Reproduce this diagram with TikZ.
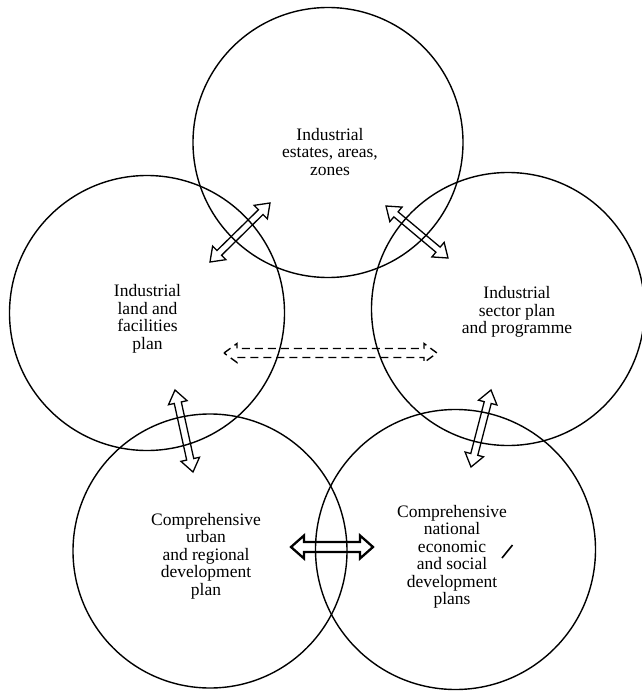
\documentclass[tikz,border=0pt]{standalone}
\usepackage{fontspec}
\setmainfont{Liberation Serif}
\usetikzlibrary{calc}
\tikzset{
  circ/.style={draw, circle, line width=1.4pt, inner sep=0pt},
  lbl/.style={align=center, inner sep=0pt, font=\fontsize{17.5}{17.5}\selectfont},
  arrowline/.style={draw, line width=1.3pt, line join=miter},
  thickarrow/.style={draw, line width=2.3pt, line join=miter},
  dasharrow/.style={draw, line width=1.4pt, dash pattern=on 8pt off 5pt}
}
\newcommand\blockarr[6][arrowline]{% A, B, shaft half width, head half width, head length
  \path ($(#2)!#6!(#3)$) coordinate (ba1) ($(#3)!#6!(#2)$) coordinate (bb1);
  \path[#1] (#2) -- ($(ba1)!#5!90:(#3)$) -- ($(ba1)!#4!90:(#3)$)
    -- ($(bb1)!#4!-90:(#2)$) -- ($(bb1)!#5!-90:(#2)$) -- (#3)
    -- ($(bb1)!#5!90:(#2)$) -- ($(bb1)!#4!90:(#2)$)
    -- ($(ba1)!#4!-90:(#3)$) -- ($(ba1)!#5!-90:(#3)$) -- cycle;
}
\begin{document}
\begin{tikzpicture}[x=1pt, y=-1pt]
\useasboundingbox (0,0) rectangle (641,693);
% circles
\node[circ, minimum size=270pt] (c1) at (328,142.5) {};
\node[circ, minimum size=275pt] (c2) at (147,313) {};
\node[circ, minimum size=273pt] (c3) at (508,309) {};
\node[circ, minimum size=274pt] (c4) at (210,551) {};
\node[circ, minimum size=280pt] (c5) at (455.5,549.5) {};
% labels
\node[lbl] (t1) at (330,152) {Industrial\\estates, areas,\\zones};
\node[lbl] (t2) at (147.5,319) {Industrial\\land and\\facilities\\plan};
\node[lbl] (t3) at (517,312) {Industrial\\sector plan\\and programme};
\node[lbl] (t4) at (206,556) {Comprehensive\\urban\\and regional\\development\\plan};
\node[lbl] (t5) at (452,557) {Comprehensive\\national\\economic\\and social\\development\\plans};
% arrow end points
\coordinate (a1s) at (210,262); \coordinate (a1e) at (270,203);
\coordinate (a2s) at (386,206); \coordinate (a2e) at (448,258);
\coordinate (a3s) at (224,353); \coordinate (a3e) at (437,353);
\coordinate (a4s) at (175,390); \coordinate (a4e) at (193,472);
\coordinate (a5s) at (491,390); \coordinate (a5e) at (471,467);
\coordinate (a6s) at (291,547); \coordinate (a6e) at (373,547);
% arrows
\blockarr{a1s}{a1e}{3.3pt}{9.5pt}{13pt}
\blockarr{a2s}{a2e}{3.3pt}{9.5pt}{13pt}
\blockarr[dasharrow]{a3s}{a3e}{4.5pt}{9.5pt}{13pt}
\blockarr{a4s}{a4e}{3.6pt}{9.5pt}{13pt}
\blockarr{a5s}{a5e}{3.6pt}{9.5pt}{13pt}
\blockarr[thickarrow]{a6s}{a6e}{5pt}{11.5pt}{13pt}
% stray pen mark
\coordinate (m1) at (502,558); \coordinate (m2) at (512.5,545);
\draw[line width=1.6pt] (m1) -- (m2);
\end{tikzpicture}
\end{document}
